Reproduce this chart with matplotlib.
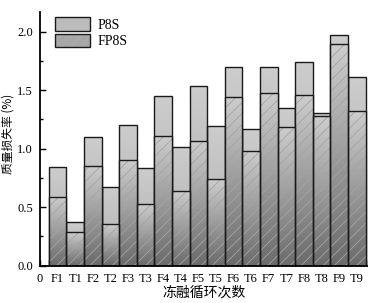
import numpy as np
import matplotlib
matplotlib.use("Agg")
import matplotlib.pyplot as plt
from matplotlib.patches import Patch
from matplotlib.ticker import MultipleLocator, FuncFormatter

plt.rcParams['font.family'] = ['Liberation Serif', 'Noto Sans CJK SC']
plt.rcParams['hatch.linewidth'] = 0.6

cycles = ['0', 'F1', 'T1', 'F2', 'T2', 'F3', 'T3', 'F4', 'T4', 'F5',
          'T5', 'F6', 'T6', 'F7', 'T7', 'F8', 'T8', 'F9', 'T9']
p8s = [0, 0.846, 0.371, 1.097, 0.670, 1.205, 0.836, 1.452, 1.015, 1.537,
       1.193, 1.695, 1.165, 1.694, 1.346, 1.740, 1.306, 1.970, 1.613]
fp8s = [0, 0.590, 0.288, 0.855, 0.356, 0.900, 0.527, 1.110, 0.641, 1.067,
        0.741, 1.440, 0.976, 1.473, 1.183, 1.458, 1.279, 1.893, 1.323]

edge = '#1a1a1a'
hatch_col = '#a4a4a4'

fig = plt.figure(figsize=(3.68, 3.03), dpi=100)
ax = fig.add_axes([40/368, 1 - 265.7/303, 1 - 40/368, (265.7 - 11.7)/303])

x = np.arange(len(cycles))


def gradient_fill(bars, lo, hi, z):
    g = np.linspace(lo, hi, 64)[:, None]
    for b in bars:
        if b.get_height() <= 0:
            continue
        im = ax.imshow(g, cmap='gray', vmin=0, vmax=1, origin='lower', aspect='auto',
                       extent=(b.get_x(), b.get_x() + b.get_width(), 0, b.get_height()),
                       zorder=z, interpolation='bilinear')
        im.set_clip_path(b)


# P8S bars: light grey
top_bars = ax.bar(x, p8s, width=1.0, color='#c2c2c2', linewidth=0, zorder=2)
gradient_fill(top_bars, 0.68, 0.80, 2.1)
ax.bar(x, p8s, width=1.0, color='none', edgecolor=edge, linewidth=1.0, zorder=2.2)

# FP8S bars: darker gradient + light hatch
low_bars = ax.bar(x, fp8s, width=1.0, color='#a0a0a0', linewidth=0, zorder=3)
gradient_fill(low_bars, 0.42, 0.80, 3.1)
ax.bar(x, fp8s, width=1.0, color='none', edgecolor=hatch_col, linewidth=0,
       hatch='///', zorder=3.2)
ax.bar(x, fp8s, width=1.0, color='none', edgecolor=edge, linewidth=1.0, zorder=3.3)

ax.set_xlim(0, 18.64)
ax.set_ylim(0, 2.17)

for s in ['top', 'right']:
    ax.spines[s].set_visible(False)
for s in ['left', 'bottom']:
    ax.spines[s].set_linewidth(1.3)
    ax.spines[s].set_zorder(5)

ax.set_xticks(x)
ax.set_xticklabels(cycles)
ax.xaxis.set_minor_locator(MultipleLocator(0.5))
ax.yaxis.set_major_locator(MultipleLocator(0.5))
ax.yaxis.set_minor_locator(MultipleLocator(0.25))
ax.yaxis.set_major_formatter(FuncFormatter(lambda v, p: '%.1f' % v))
ax.tick_params(which='both', direction='in', labelsize=9, width=1.0, zorder=6)
ax.tick_params(which='major', length=4, pad=5)
ax.tick_params(which='minor', length=2.5)
ax.tick_params(axis='x', which='minor', length=4)

ax.set_xlabel('冻融循环次数', fontsize=10, family=['Noto Sans CJK SC'], labelpad=1)
ax.set_ylabel('质量损失率 (%)', fontsize=8.5, family=['Noto Sans CJK SC'])
ax.yaxis.set_label_coords(-0.078, 0.52)

handles = [Patch(facecolor='#bcbcbc', edgecolor=edge, linewidth=1.0),
           (Patch(facecolor='#a8a8a8', edgecolor=hatch_col, linewidth=0, hatch='///'),
            Patch(facecolor='none', edgecolor=edge, linewidth=1.0))]
ax.legend(handles, ['P8S', 'FP8S'], loc='upper left', bbox_to_anchor=(0.03, 1.0),
          frameon=False, fontsize=10, handlelength=2.5, handleheight=1.15,
          labelspacing=0.12, handletextpad=0.5, borderaxespad=0.0)

fig.savefig('out.png', dpi=100)
